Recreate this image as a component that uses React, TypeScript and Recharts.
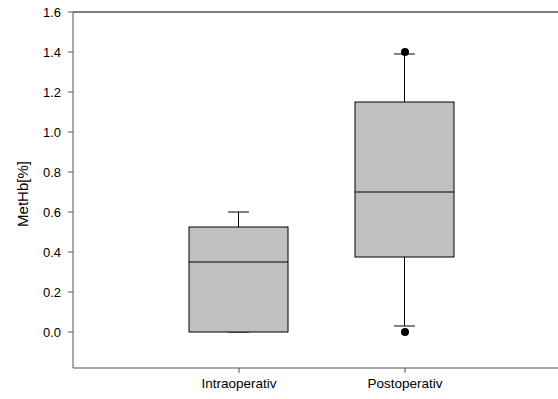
import React from 'react';
import { ComposedChart, Bar, Scatter, XAxis, YAxis, ReferenceLine } from 'recharts';

// Box plot of MetHb[%] at two measurement times
const categories = ['Intraoperativ', 'Postoperativ'];
const positions = [1, 2];
const whiskerLow = [0.0, 0.03];
const quartile1 = [0.0, 0.375];
const medians = [0.35, 0.7];
const quartile3 = [0.525, 1.15];
const whiskerHigh = [0.6, 1.39];

// Single points outside the whiskers
const outlierPositions = [2, 2];
const outlierValues = [1.4, 0.0];

const yTicks = [0, 0.2, 0.4, 0.6, 0.8, 1.0, 1.2, 1.4, 1.6];
const yTop = 1.6;
const yTitle = 'MetHb[%]';

const rows = categories.map((name, i) => ({
  name,
  pos: positions[i],
  lo: whiskerLow[i],
  q1: quartile1[i],
  med: medians[i],
  q3: quartile3[i],
  hi: whiskerHigh[i],
  range: [whiskerLow[i], whiskerHigh[i]],
}));

const outliers = outlierPositions.map((pos, i) => ({ pos, v: outlierValues[i] }));

const FONT = 'Liberation Sans, Arial, sans-serif';
const AXIS = '#555';

const BoxShape = (props: any) => {
  const { x, y, width, height, payload } = props;
  const top = Math.min(y, y + height);
  const h = Math.abs(height);
  const span = payload.hi - payload.lo;
  const toY = (v: number) => top + ((payload.hi - v) / span) * h;
  const cx = x + width / 2;
  const capHalf = width * 0.105;
  const yHi = toY(payload.hi);
  const yLo = toY(payload.lo);
  const yQ1 = toY(payload.q1);
  const yQ3 = toY(payload.q3);
  const yMed = toY(payload.med);
  return (
    <g>
      <line x1={cx} x2={cx} y1={yHi} y2={yQ3} stroke="#000" strokeWidth={1} />
      <line x1={cx} x2={cx} y1={yQ1} y2={yLo} stroke="#000" strokeWidth={1} />
      <line x1={cx - capHalf} x2={cx + capHalf} y1={yHi} y2={yHi} stroke="#000" strokeWidth={1} />
      <line x1={cx - capHalf} x2={cx + capHalf} y1={yLo} y2={yLo} stroke="#000" strokeWidth={1} />
      <rect x={x} y={yQ3} width={width} height={yQ1 - yQ3} fill="#c0c0c0" stroke="#000" strokeWidth={1} />
      <line x1={x} x2={x + width} y1={yMed} y2={yMed} stroke="#000" strokeWidth={1} />
    </g>
  );
};

const Dot = (props: any) => <circle cx={props.cx} cy={props.cy} r={4} fill="#000" />;

// Rotated y-axis title placed relative to the axis view box
const YTitle = (props: any) => {
  const vb = props.viewBox || {};
  const x = (vb.x ?? 0) + 22;
  const y = (vb.y ?? 0) + (vb.height ?? 0) / 2 + 4;
  return (
    <text
      x={x}
      y={y}
      transform={`rotate(-90, ${x}, ${y})`}
      textAnchor="middle"
      dominantBaseline="central"
      fill="#000"
      fontSize={15}
      fontFamily={FONT}
    >
      {yTitle}
    </text>
  );
};

export default function App() {
  return (
    <div style={{ position: 'fixed', left: 0, top: 0, width: 558, height: 399, overflow: 'hidden', background: '#fff' }}>
      <ComposedChart
        width={580}
        height={399}
        data={rows}
        margin={{ top: 12, right: 9, bottom: 0, left: 0 }}
        style={{ fontFamily: FONT }}
      >
        <XAxis
          xAxisId="main"
          dataKey="pos"
          type="number"
          domain={[0, 3]}
          ticks={positions}
          tickFormatter={(v: number) => categories[positions.indexOf(v)] ?? ''}
          axisLine={{ stroke: AXIS }}
          tickLine={{ stroke: AXIS }}
          tickSize={5}
          tickMargin={5}
          height={31}
          tick={{ fill: '#000', fontSize: 13.5, fontFamily: FONT }}
        />
        <YAxis
          type="number"
          domain={[-0.18, 1.6]}
          ticks={yTicks}
          allowDataOverflow
          tickFormatter={(v: number) => v.toFixed(1)}
          axisLine={{ stroke: AXIS }}
          tickLine={{ stroke: AXIS }}
          tickSize={5}
          tickMargin={7}
          width={73}
          tick={{ fill: '#000', fontSize: 13, fontFamily: FONT }}
          label={{ position: 'insideLeft', content: YTitle }}
        />
        <ReferenceLine xAxisId="main" y={yTop} stroke={AXIS} strokeWidth={1.5} />
        <Bar
          xAxisId="main"
          dataKey="range"
          barSize={99}
          shape={BoxShape}
          isAnimationActive={false}
        />
        <Scatter
          xAxisId="main"
          data={outliers}
          dataKey="v"
          shape={Dot}
          isAnimationActive={false}
        />
      </ComposedChart>
    </div>
  );
}
